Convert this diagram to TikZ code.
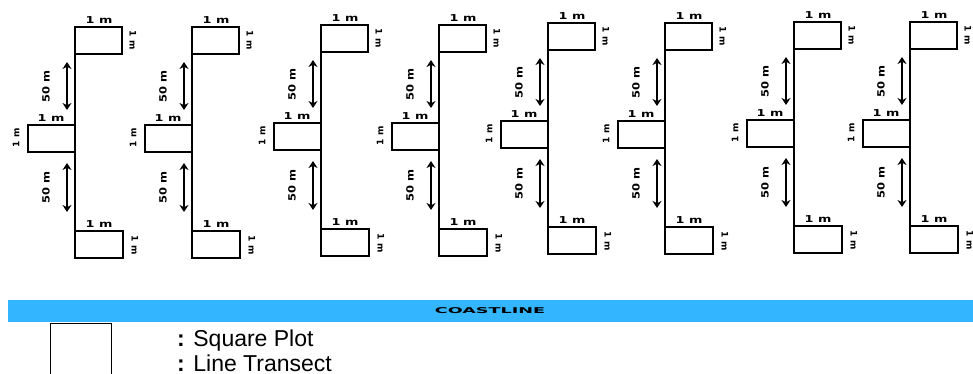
\documentclass[tikz,border=0pt]{standalone}
\usepackage{fontspec}
\setmainfont{Liberation Sans}
\newfontfamily\lblfont{DejaVu Sans}
\usetikzlibrary{arrows.meta}
\definecolor{coast}{RGB}{51,181,255}
\begin{document}
\begin{tikzpicture}[x=1pt,y=-1pt,
  plotbox/.style={draw, line width=2pt, minimum width=47pt, minimum height=27pt, inner sep=0pt, outer sep=0pt},
  toplbl/.style={font=\lblfont\bfseries\fontsize{9.5}{9.5}\selectfont, inner sep=0pt},
  sidelbl/.style={font=\lblfont\bfseries\fontsize{9}{9}\selectfont, inner sep=0pt},
  distlbl/.style={font=\lblfont\bfseries\fontsize{10}{10}\selectfont, inner sep=0pt, rotate=90},
  transect/.style={line width=2.2pt},
  gaparrow/.style={line width=1.8pt, {Stealth[length=7pt,width=9pt]}-{Stealth[length=7pt,width=9pt]}},
  legendtxt/.style={font=\fontsize{23}{27}\selectfont, inner sep=0pt, anchor=base west}
]
\useasboundingbox (0,0) rectangle (973,374);
\clip (0,0) rectangle (973,374);
\fill[white] (0,0) rectangle (973,374);

\foreach \L/\d [count=\i] in {75/0,192/0,321/-2,439/-2,548/-4,665/-4,794/-5,910/-5}{
  % plots
  \node[plotbox, anchor=north west] (top\i) at (\L,27+\d) {};
  \node[plotbox, anchor=north east] (mid\i) at (\L,125+\d) {};
  \node[plotbox, anchor=north west, minimum width=48pt] (bot\i) at (\L,231+\d) {};
  % transect line
  \draw[transect] (top\i.north west) -- (bot\i.south west);
  % distance arrows
  \coordinate (a\i) at (\L-8,62+\d);
  \coordinate (b\i) at (\L-8,110+\d);
  \coordinate (c\i) at (\L-8,163+\d);
  \coordinate (e\i) at (\L-8,212+\d);
  \draw[gaparrow] (a\i) -- (b\i);
  \draw[gaparrow] (c\i) -- (e\i);
  \node[distlbl] (da\i) at (\L-29,87+\d) {\scalebox{1.15}[1]{50 m}};
  \node[distlbl] (db\i) at (\L-29,188+\d) {\scalebox{1.15}[1]{50 m}};
  % plot labels
  \node[toplbl] (tw\i) at (\L+24,20+\d) {\scalebox{1.35}[1]{1 m}};
  \node[sidelbl, rotate=-90] (th\i) at (\L+58,40+\d) {1 m};
  \node[toplbl] (mw\i) at (\L-24,118+\d) {\scalebox{1.35}[1]{1 m}};
  \node[sidelbl, rotate=90] (mh\i) at (\L-59,138+\d) {1 m};
  \node[toplbl] (bw\i) at (\L+24,224+\d) {\scalebox{1.35}[1]{1 m}};
  \node[sidelbl, rotate=-90] (bh\i) at (\L+60,245+\d) {1 m};
}

% coastline
\node[fill=coast, minimum width=965pt, minimum height=22pt, inner sep=0pt, anchor=north west] (coast) at (8,300) {};
\node[font=\lblfont\bfseries\fontsize{8}{8}\selectfont, inner sep=0pt] (coastlbl) at (490,311) {\scalebox{2.2}[1]{COASTLINE}};

% legend
\node[draw, line width=1.4pt, minimum width=61pt, minimum height=61pt, inner sep=0pt, anchor=north west] (legbox) at (50,323) {};
\node[legendtxt] (leg1) at (177,346) {\textbf{:} Square Plot};
\node[legendtxt] (leg2) at (177,371) {\textbf{:} Line Transect};
\end{tikzpicture}
\end{document}
